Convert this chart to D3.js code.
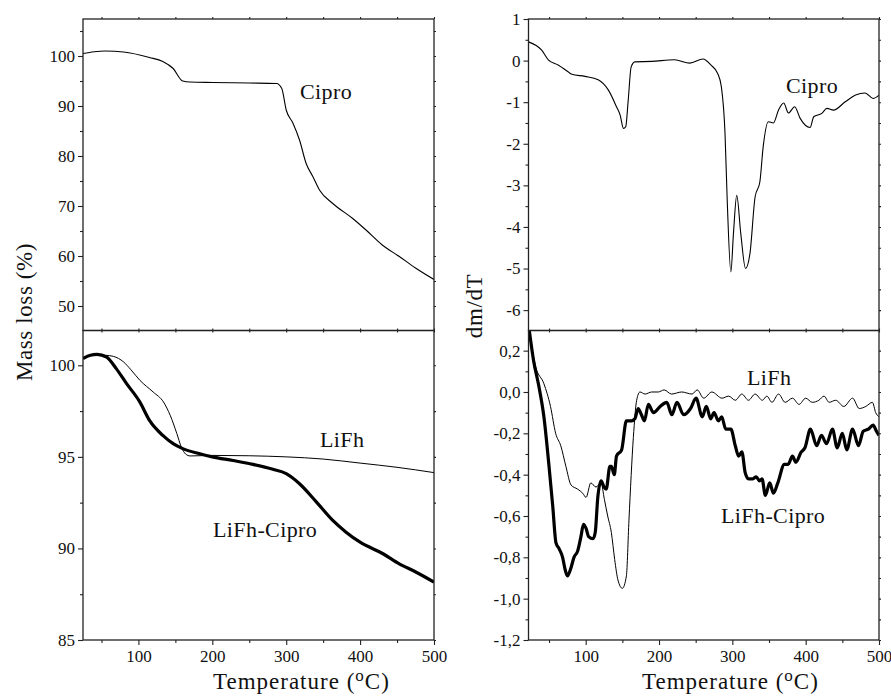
<!DOCTYPE html>
<html>
<head>
<meta charset="utf-8">
<script src="https://cdn.jsdelivr.net/npm/d3@7"></script>
<style>
  html, body { margin: 0; padding: 0; background: #fff; }
  svg { display: block; }
  text { font-family: "Liberation Serif", "Times New Roman", serif; fill: #111; }
</style>
</head>
<body>
<svg id="chart" width="891" height="696"></svg>
<script>
// ---------------- DATA ----------------
// Top-left: TG of Cipro (mass %, vs temperature °C)
const ciproTgT = [25, 40, 55, 80, 115, 133, 147, 160, 170, 200, 250, 287, 294, 300, 309, 318, 327, 336, 345, 363, 390, 408, 430, 453, 475, 500];
const ciproTgV = [100.5, 100.85, 101.0, 100.8, 99.7, 98.9, 97.5, 95.0, 94.8, 94.7, 94.6, 94.5, 93.5, 89.2, 86.6, 83.2, 78.5, 75.9, 73.2, 70.5, 67.5, 65.2, 62.2, 59.9, 57.6, 55.3];

// Bottom-left: TG of LiFh (thin) and LiFh-Cipro (thick)
const lifhTgT = [25, 35, 44, 55, 66, 80, 90, 102, 120, 134, 143, 152, 158, 164, 170, 200, 250, 300, 350, 400, 450, 500];
const lifhTgV = [100.37, 100.52, 100.58, 100.55, 100.49, 100.18, 99.75, 99.18, 98.54, 97.99, 97.27, 96.27, 95.54, 95.15, 95.05, 95.08, 95.06, 95.0, 94.88, 94.66, 94.43, 94.14];
const lifhCiproTgT = [25, 35, 44, 57, 70, 84, 102, 115, 133, 147, 160, 183, 200, 228, 255, 282, 300, 318, 341, 363, 381, 400, 431, 453, 476, 500];
const lifhCiproTgV = [100.37, 100.55, 100.6, 100.45, 99.82, 99.0, 97.99, 96.99, 96.17, 95.72, 95.45, 95.17, 95.0, 94.8, 94.59, 94.32, 94.08, 93.53, 92.53, 91.53, 90.89, 90.34, 89.71, 89.16, 88.7, 88.16];

// Top-right: DTG of Cipro
const ciproDtgT = [22, 40, 49, 63, 76, 81, 99, 117, 131, 142, 147, 151.5, 154.6, 158, 162, 167, 190, 221, 242, 260, 271, 280, 285, 290, 293, 298, 301.5, 306, 311.5, 318, 324, 331, 337.5, 342, 349, 356, 363, 370, 376.5, 385, 392.5, 406, 411, 422, 429, 438, 454, 468, 481, 492, 500];
const ciproDtgV = [0.45, 0.25, 0.02, -0.11, -0.27, -0.33, -0.38, -0.46, -0.71, -1.11, -1.31, -1.63, -1.59, -0.95, -0.15, -0.03, -0.02, 0.02, -0.06, 0.04, -0.11, -0.31, -0.63, -1.75, -3.36, -5.08, -4.16, -3.24, -4.16, -5.0, -4.64, -3.28, -2.92, -2.08, -1.47, -1.5, -1.19, -1.02, -1.26, -1.11, -1.39, -1.61, -1.35, -1.27, -1.15, -1.19, -0.99, -0.83, -0.78, -0.91, -0.83];

// Bottom-right: DTG of LiFh (thin) and LiFh-Cipro (thick)
const lifhDtgT = [23, 32, 43, 52, 59, 66, 73, 80, 89, 96, 100.5, 107, 114, 121, 125.5, 130, 135, 139.5, 144, 150, 155.5, 159, 165, 169.5, 174, 181, 190, 199, 207, 217, 231, 245, 252, 261, 272, 286, 295, 304, 313, 322, 331, 341, 347, 354, 363, 372, 382, 391, 400, 409, 418, 425, 432, 441, 452, 464, 473, 482, 491, 495.5, 500];
const lifhDtgV = [0.29, 0.12, 0.04, -0.07, -0.2, -0.26, -0.36, -0.45, -0.47, -0.49, -0.51, -0.44, -0.46, -0.44, -0.52, -0.6, -0.68, -0.81, -0.91, -0.95, -0.89, -0.62, -0.22, -0.04, 0.0, -0.01, 0.0, 0.0, 0.01, -0.01, 0.0, -0.01, 0.01, -0.03, 0.0, -0.03, -0.02, -0.04, -0.01, -0.04, -0.01, -0.04, -0.02, -0.05, -0.01, -0.05, -0.03, -0.06, -0.03, -0.05, -0.04, -0.02, -0.05, -0.04, -0.07, -0.03, -0.08, -0.07, -0.05, -0.1, -0.12];
const lifhCiproDtgT = [23, 29, 36, 43, 50, 55, 59.5, 64, 68.5, 72, 75, 80, 84, 89, 93.5, 97, 100.5, 104, 110, 113, 116.5, 121, 125, 128, 133, 135, 139, 142, 149, 155.5, 162.5, 167, 171.5, 176, 180, 185.5, 192.5, 201.5, 210.5, 217.5, 224.5, 233.5, 243, 250.5, 259, 264.5, 270.5, 275, 281, 285.5, 291, 298, 304, 308.5, 313, 317.5, 322, 328, 332.5, 337, 340.5, 345, 351, 356, 362, 371, 376, 382, 386.5, 394, 399, 406.5, 415, 421.5, 428.5, 436.5, 443, 450, 456, 464, 472, 478.5, 485.5, 492, 496.5, 500];
const lifhCiproDtgV = [0.3, 0.15, 0.03, -0.12, -0.36, -0.55, -0.73, -0.76, -0.8, -0.86, -0.89, -0.85, -0.8, -0.77, -0.7, -0.64, -0.66, -0.7, -0.71, -0.68, -0.51, -0.43, -0.46, -0.47, -0.36, -0.36, -0.4, -0.31, -0.28, -0.14, -0.14, -0.13, -0.08, -0.11, -0.14, -0.06, -0.1, -0.07, -0.05, -0.11, -0.05, -0.11, -0.08, -0.03, -0.12, -0.07, -0.13, -0.1, -0.14, -0.12, -0.18, -0.18, -0.26, -0.31, -0.29, -0.39, -0.42, -0.42, -0.41, -0.43, -0.42, -0.5, -0.44, -0.49, -0.44, -0.35, -0.35, -0.31, -0.34, -0.29, -0.27, -0.18, -0.26, -0.21, -0.25, -0.18, -0.27, -0.2, -0.28, -0.18, -0.26, -0.19, -0.18, -0.16, -0.19, -0.21];

// Tick values
const xMajorTicks = [100, 200, 300, 400, 500];
const xMinorTicks = [50, 150, 250, 350, 450];
const tlMajor = [50, 60, 70, 80, 90, 100];
const tlMinor = [55, 65, 75, 85, 95, 105];
const blMajor = [85, 90, 95, 100];
const blMinor = [87.5, 92.5, 97.5];
const trMajor = [1, 0, -1, -2, -3, -4, -5, -6];
const trMinor = [0.5, -0.5, -1.5, -2.5, -3.5, -4.5, -5.5];
const brMajor = [0.2, 0.0, -0.2, -0.4, -0.6, -0.8, -1.0, -1.2];
const brMinor = [0.1, -0.1, -0.3, -0.5, -0.7, -0.9, -1.1];

// Text
const yTitleLeft = "Mass loss (%)";
const yTitleRight = "dm/dT";
const xTitleMain = "Temperature (";
const xTitleSup = "o";
const xTitleEnd = "C)";

// ---------------- DRAWING ----------------
const svg = d3.select("#chart");
const AX = "#222";

const Ltop = 19, Lmid = 330.5, Lbot = 640;
const leftX = [83, 434], rightX = [528.5, 879];

const xLeft = d3.scaleLinear().domain([25, 500]).range(leftX);
const xRight = d3.scaleLinear().domain([22, 500]).range(rightX);
const yTL = d3.scaleLinear().domain([45.1, 107.4]).range([Lmid, Ltop]);
const yBL = d3.scaleLinear().domain([85, 101.9]).range([Lbot, Lmid]);
const yTR = d3.scaleLinear().domain([-6.49, 1]).range([Lmid, Ltop]);
const yBR = d3.scaleLinear().domain([-1.2, 0.2975]).range([Lbot, Lmid]);

const fmtInt = d => (d < 0 ? "-" : "") + Math.abs(d).toFixed(0);
const fmtComma = d => (d < -1e-9 ? "-" : "") + Math.abs(d).toFixed(1).replace(".", ",");

let clipId = 0;
function panel(x, y, yMajor, yMinor, yFmt, showX, series) {
  const [x0, x1] = x.range();
  const [yb, yt] = y.range();
  const id = "clip" + (clipId++);
  svg.append("clipPath").attr("id", id)
    .append("rect").attr("x", x0).attr("y", yt).attr("width", x1 - x0).attr("height", yb - yt);

  const g = svg.append("g").attr("clip-path", `url(#${id})`);
  series.forEach(s => {
    const pts = s.t.map((t, i) => [t, s.v[i]]);
    g.append("path")
      .attr("d", d3.line().x(d => x(d[0])).y(d => y(d[1])).curve(d3.curveMonotoneX)(pts))
      .attr("fill", "none").attr("stroke", "#000")
      .attr("stroke-width", s.w).attr("stroke-linejoin", "round");
  });

  function axis(gen, transform) {
    const a = svg.append("g").attr("transform", transform).call(gen);
    a.select(".domain").remove();
    a.selectAll(".tick line").attr("stroke", AX).attr("stroke-width", 1.1);
    a.selectAll(".tick text")
      .attr("font-family", '"Liberation Serif", serif')
      .attr("font-size", 17).attr("fill", "#111");
    return a;
  }
  // left y axis
  axis(d3.axisLeft(y).tickValues(yMajor).tickSize(5).tickPadding(3).tickFormat(yFmt), `translate(${x0},0)`);
  axis(d3.axisLeft(y).tickValues(yMinor).tickSize(3).tickFormat(""), `translate(${x0},0)`);
  // right y axis (small mirror ticks)
  axis(d3.axisRight(y).tickValues(yMajor.concat(yMinor)).tickSize(2).tickFormat(""), `translate(${x1},0)`);
  // top x ticks
  axis(d3.axisTop(x).tickValues(xMajorTicks.concat(xMinorTicks)).tickSize(2).tickFormat(""), `translate(0,${yt})`);
  if (showX) {
    axis(d3.axisBottom(x).tickValues(xMajorTicks).tickSize(5).tickPadding(5).tickFormat(d3.format("d")), `translate(0,${yb})`);
    axis(d3.axisBottom(x).tickValues(xMinorTicks).tickSize(3).tickFormat(""), `translate(0,${yb})`);
  } else {
    axis(d3.axisBottom(x).tickValues(xMajorTicks.concat(xMinorTicks)).tickSize(2).tickFormat(""), `translate(0,${yb})`);
  }
  // frame
  svg.append("rect").attr("x", x0).attr("y", yt).attr("width", x1 - x0).attr("height", yb - yt)
    .attr("fill", "none").attr("stroke", AX).attr("stroke-width", 1.3);
}

panel(xLeft, yTL, tlMajor, tlMinor, fmtInt, false, [{ t: ciproTgT, v: ciproTgV, w: 1.1 }]);
panel(xLeft, yBL, blMajor, blMinor, fmtInt, true, [
  { t: lifhTgT, v: lifhTgV, w: 1.0 },
  { t: lifhCiproTgT, v: lifhCiproTgV, w: 3.2 }
]);
panel(xRight, yTR, trMajor, trMinor, fmtInt, false, [{ t: ciproDtgT, v: ciproDtgV, w: 1.1 }]);
panel(xRight, yBR, brMajor, brMinor, fmtComma, true, [
  { t: lifhDtgT, v: lifhDtgV, w: 1.0 },
  { t: lifhCiproDtgT, v: lifhCiproDtgV, w: 3.2 }
]);

// annotations
const notes = [
  { txt: "Cipro", x: 300, y: 99 },
  { txt: "LiFh", x: 320, y: 447 },
  { txt: "LiFh-Cipro", x: 213, y: 537 },
  { txt: "Cipro", x: 786, y: 93 },
  { txt: "LiFh", x: 747, y: 385 },
  { txt: "LiFh-Cipro", x: 721, y: 523 }
];
svg.selectAll("text.note").data(notes).join("text").attr("class", "note")
  .attr("x", d => d.x).attr("y", d => d.y).attr("font-size", 22)
  .attr("letter-spacing", 0.4).text(d => d.txt);

// axis titles
svg.append("text").attr("transform", "translate(32,312) rotate(-90)")
  .attr("text-anchor", "middle").attr("font-size", 23).attr("letter-spacing", 0.6).text(yTitleLeft);
svg.append("text").attr("transform", "translate(482,306) rotate(-90)")
  .attr("text-anchor", "middle").attr("font-size", 23).attr("letter-spacing", 0.6).text(yTitleRight);

function xTitle(x) {
  const t = svg.append("text").attr("x", x).attr("y", 689).attr("font-size", 23).attr("letter-spacing", 1);
  t.append("tspan").text(xTitleMain);
  t.append("tspan").attr("font-size", 17).attr("dy", -8).text(xTitleSup);
  t.append("tspan").attr("dy", 8).text(xTitleEnd);
}
xTitle(213);
xTitle(642);
</script>
</body>
</html>
